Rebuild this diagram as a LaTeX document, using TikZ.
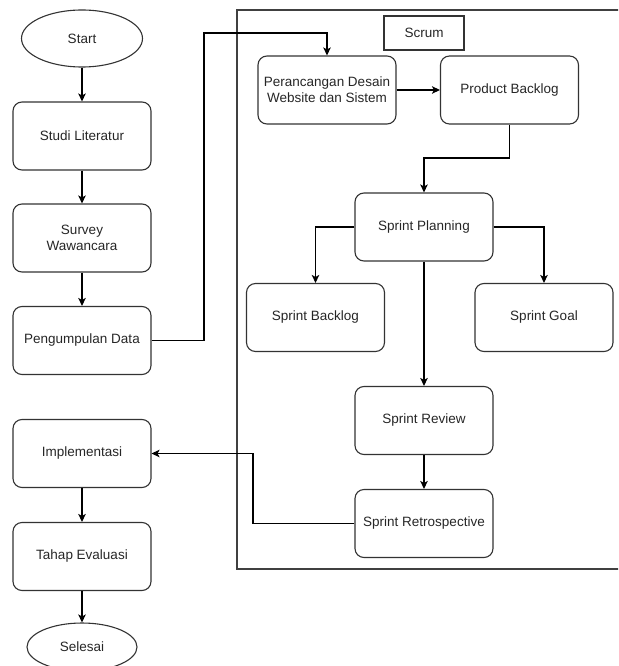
\documentclass[tikz,border=0pt]{standalone}
\usepackage{fontspec}
\setmainfont{Liberation Sans}
\usetikzlibrary{arrows.meta,shapes.geometric}
\begin{document}
\begin{tikzpicture}[x=1pt,y=-1pt,
  font=\fontsize{13.5}{16}\selectfont,
  every node/.style={text=black!85},
  box/.style={draw=black!80, line width=1.1pt, rounded corners=9pt, minimum width=138pt, minimum height=68pt, align=center, inner sep=2pt},
  term/.style={draw=black!80, line width=1.1pt, ellipse, inner sep=0pt, align=center},
  lbl/.style={draw=black!80, line width=1.1pt, minimum width=80pt, minimum height=34pt, inner sep=0pt},
  arr/.style={draw=black, line width=1.1pt, -{Stealth[length=8pt,width=7.5pt,inset=2pt]}},
  frame/.style={draw=black!75, line width=1.1pt}]
\useasboundingbox (0,0) rectangle (618,666);
\clip (0,0) rectangle (618,666);
% Scrum container
\draw[frame] (620,10) -- (237,10) -- (237,569) -- (620,569);
% left column
\node[term, minimum width=121pt, minimum height=57pt] (start) at (82,38.5) {Start};
\node[box] (studi) at (82,136) {Studi Literatur};
\node[box] (survey) at (82,238) {Survey\\Wawancara};
\node[box] (peng) at (82,340.5) {Pengumpulan Data};
\node[box] (impl) at (82,453.5) {Implementasi};
\node[box] (tahap) at (82,556.5) {Tahap Evaluasi};
\node[term, minimum width=110pt, minimum height=48pt] (selesai) at (82,647) {Selesai};
% scrum
\node[lbl] (scrum) at (424,33) {Scrum};
\node[box] (per) at (327,90) {Perancangan Desain\\Website dan Sistem};
\node[box] (pb) at (509.5,90) {Product Backlog};
\node[box] (plan) at (424,227) {Sprint Planning};
\node[box] (sbl) at (315.5,317.5) {Sprint Backlog};
\node[box] (goal) at (544,317.5) {Sprint Goal};
\node[box] (rev) at (424,420.5) {Sprint Review};
\node[box] (retro) at (424,523.5) {Sprint Retrospective};
% bend points
\coordinate (c1) at (204,33);
\coordinate (c2) at (424,158);
\coordinate (c3) at (253,453.5);
% connectors
\draw[arr] (start) -- (studi);
\draw[arr] (studi) -- (survey);
\draw[arr] (survey) -- (peng);
\draw[arr] (peng.east) -| (c1) -| (per.north);
\draw[arr] (per) -- (pb);
\draw[arr] (pb.south) |- (c2) -- (plan.north);
\draw[arr] (plan.west) -| (sbl.north);
\draw[arr] (plan.east) -| (goal.north);
\draw[arr] (plan) -- (rev);
\draw[arr] (rev) -- (retro);
\draw[arr] (retro.west) -| (c3) -- (impl.east);
\draw[arr] (impl) -- (tahap);
\draw[arr] (tahap) -- (selesai);
\end{tikzpicture}
\end{document}
